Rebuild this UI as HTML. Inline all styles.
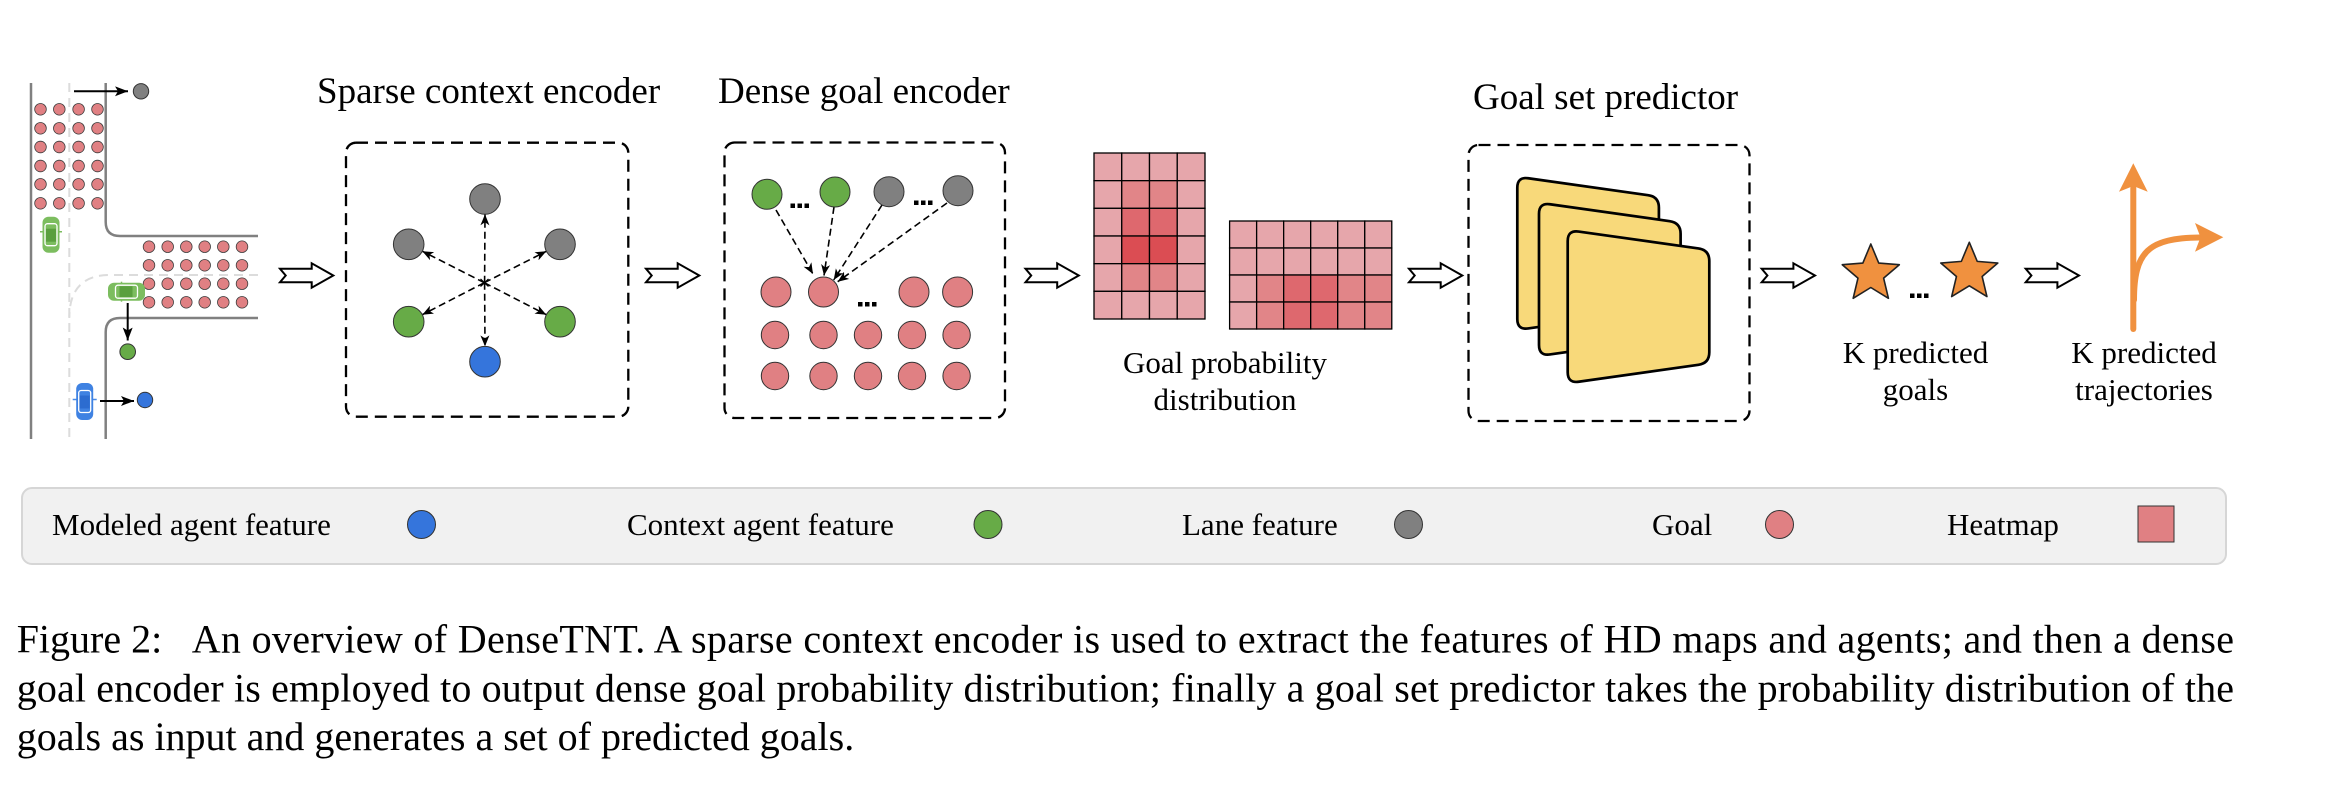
<!DOCTYPE html>
<html>
<head>
<meta charset="utf-8">
<style>
html,body{margin:0;padding:0;background:#fff;}
svg{display:block;}
text{font-family:"Liberation Serif","Times New Roman",serif;fill:#000;}
</style>
</head>
<body>
<svg xmlns="http://www.w3.org/2000/svg" width="2346" height="806" viewBox="0 0 2346 806">
<rect width="2346" height="806" fill="#fff"/>
<defs>
  <marker id="ah" markerWidth="11" markerHeight="9" refX="11" refY="4.5" orient="auto" markerUnits="userSpaceOnUse">
    <path d="M0,0 L11,4.5 L0,9 L3,4.5 Z" fill="#000"/>
  </marker>
  <marker id="ahs" markerWidth="13" markerHeight="10" refX="13" refY="5" orient="auto" markerUnits="userSpaceOnUse">
    <path d="M0,0 L13,5 L0,10 L3,5 Z" fill="#000"/>
  </marker>
</defs>

<!-- ================= ROAD SCENE ================= -->
<g fill="none" stroke="#dcdcdc" stroke-width="2" stroke-dasharray="9 6">
  <path d="M69.3,83 V439"/>
  <path d="M258,275 H110 Q69.3,275 69.3,318"/>
</g>
<g fill="none" stroke="#808080" stroke-width="2.5">
  <path d="M31,83 V439"/>
  <path d="M105.7,83 V222 Q105.7,236 120,236 H258"/>
  <path d="M258,318 H120 Q105.7,318 105.7,332 V439"/>
</g>

<!-- goal dots top -->
<g fill="#e08083" stroke="#3a3a3a" stroke-width="0.8">
  <circle cx="40.5" cy="109.3" r="5.8"/><circle cx="59.3" cy="109.3" r="5.8"/><circle cx="78.6" cy="109.3" r="5.8"/><circle cx="97.5" cy="109.3" r="5.8"/>
  <circle cx="40.5" cy="128.3" r="5.8"/><circle cx="59.3" cy="128.3" r="5.8"/><circle cx="78.6" cy="128.3" r="5.8"/><circle cx="97.5" cy="128.3" r="5.8"/>
  <circle cx="40.5" cy="147" r="5.8"/><circle cx="59.3" cy="147" r="5.8"/><circle cx="78.6" cy="147" r="5.8"/><circle cx="97.5" cy="147" r="5.8"/>
  <circle cx="40.5" cy="166" r="5.8"/><circle cx="59.3" cy="166" r="5.8"/><circle cx="78.6" cy="166" r="5.8"/><circle cx="97.5" cy="166" r="5.8"/>
  <circle cx="40.5" cy="184.3" r="5.8"/><circle cx="59.3" cy="184.3" r="5.8"/><circle cx="78.6" cy="184.3" r="5.8"/><circle cx="97.5" cy="184.3" r="5.8"/>
  <circle cx="40.5" cy="203.3" r="5.8"/><circle cx="59.3" cy="203.3" r="5.8"/><circle cx="78.6" cy="203.3" r="5.8"/><circle cx="97.5" cy="203.3" r="5.8"/>
  <!-- right block -->
  <circle cx="149" cy="246.7" r="5.8"/><circle cx="167.7" cy="246.7" r="5.8"/><circle cx="186.3" cy="246.7" r="5.8"/><circle cx="204.7" cy="246.7" r="5.8"/><circle cx="223.3" cy="246.7" r="5.8"/><circle cx="242" cy="246.7" r="5.8"/>
  <circle cx="149" cy="265.3" r="5.8"/><circle cx="167.7" cy="265.3" r="5.8"/><circle cx="186.3" cy="265.3" r="5.8"/><circle cx="204.7" cy="265.3" r="5.8"/><circle cx="223.3" cy="265.3" r="5.8"/><circle cx="242" cy="265.3" r="5.8"/>
  <circle cx="149" cy="283.7" r="5.8"/><circle cx="167.7" cy="283.7" r="5.8"/><circle cx="186.3" cy="283.7" r="5.8"/><circle cx="204.7" cy="283.7" r="5.8"/><circle cx="223.3" cy="283.7" r="5.8"/><circle cx="242" cy="283.7" r="5.8"/>
  <circle cx="149" cy="302.3" r="5.8"/><circle cx="167.7" cy="302.3" r="5.8"/><circle cx="186.3" cy="302.3" r="5.8"/><circle cx="204.7" cy="302.3" r="5.8"/><circle cx="223.3" cy="302.3" r="5.8"/><circle cx="242" cy="302.3" r="5.8"/>
</g>

<!-- green car vertical -->
<g transform="translate(51,234.7)">
  <line x1="-11" y1="-3" x2="11" y2="-3" stroke="#7cbd5f" stroke-width="1.5"/>
  <rect x="-8.5" y="-18" width="17" height="36" rx="6" fill="#7cbd5f"/>
  <rect x="-6" y="-11" width="12" height="22" rx="2.5" fill="none" stroke="#fff" stroke-width="1.3"/>
  <rect x="-5" y="-6" width="10" height="13" fill="#5a9f3e"/>
</g>
<!-- green car horizontal -->
<g transform="translate(126.5,291.7) rotate(90)">
  <line x1="-10" y1="5" x2="10" y2="5" stroke="#7cbd5f" stroke-width="1.5"/>
  <rect x="-9" y="-18.5" width="18" height="37" rx="6" fill="#7cbd5f"/>
  <rect x="-6.5" y="-11" width="13" height="22" rx="2.5" fill="none" stroke="#fff" stroke-width="1.3"/>
  <rect x="-5.5" y="-6" width="11" height="13" fill="#5a9f3e"/>
</g>
<!-- blue car -->
<g transform="translate(84.7,401.5)">
  <line x1="-12" y1="-2" x2="12" y2="-2" stroke="#4a8ae6" stroke-width="1.5"/>
  <rect x="-8.5" y="-18.5" width="17" height="37" rx="6" fill="#3f82e2"/>
  <rect x="-6" y="-11" width="12" height="22" rx="2.5" fill="none" stroke="#fff" stroke-width="1.3"/>
  <rect x="-5" y="-6" width="10" height="13" fill="#2c6cd0"/>
</g>

<!-- road arrows + dots -->
<g stroke="#000" stroke-width="2" fill="none">
  <line x1="74" y1="91.3" x2="128" y2="91.3" marker-end="url(#ahs)"/>
  <line x1="127.7" y1="303" x2="127.7" y2="340.5" marker-end="url(#ahs)"/>
  <line x1="100" y1="401" x2="134" y2="401" marker-end="url(#ahs)"/>
</g>
<circle cx="141" cy="91.3" r="7.7" fill="#808080" stroke="#333" stroke-width="1"/>
<circle cx="127.7" cy="351.7" r="7.8" fill="#67ab47" stroke="#333" stroke-width="1"/>
<circle cx="145" cy="400" r="7.7" fill="#3575dc" stroke="#333" stroke-width="1"/>

<!-- ================= BLOCK ARROWS ================= -->
<g fill="#fff" stroke="#000" stroke-width="2" stroke-linejoin="miter">
  <polygon transform="translate(280,263.3)" points="0,5.5 31.7,5.5 31.7,0 53.3,12.2 31.7,24.4 31.7,18.9 0,18.9 5.7,12.2"/>
  <polygon transform="translate(646,263.3)" points="0,5.5 31.7,5.5 31.7,0 53.3,12.2 31.7,24.4 31.7,18.9 0,18.9 5.7,12.2"/>
  <polygon transform="translate(1025.5,263.3)" points="0,5.5 31.7,5.5 31.7,0 53.3,12.2 31.7,24.4 31.7,18.9 0,18.9 5.7,12.2"/>
  <polygon transform="translate(1409,263.3)" points="0,5.5 31.7,5.5 31.7,0 53.3,12.2 31.7,24.4 31.7,18.9 0,18.9 5.7,12.2"/>
  <polygon transform="translate(1761.7,263.3)" points="0,5.5 31.7,5.5 31.7,0 53.3,12.2 31.7,24.4 31.7,18.9 0,18.9 5.7,12.2"/>
  <polygon transform="translate(2025.7,263.3)" points="0,5.5 31.7,5.5 31.7,0 53.3,12.2 31.7,24.4 31.7,18.9 0,18.9 5.7,12.2"/>
</g>

<!-- ================= TITLES ================= -->
<text x="317" y="103" font-size="37">Sparse context encoder</text>
<text x="718" y="103" font-size="37">Dense goal encoder</text>
<text x="1473" y="109" font-size="37">Goal set predictor</text>

<!-- ================= DASHED BOXES ================= -->
<g fill="none" stroke="#000" stroke-width="2.3" stroke-dasharray="12 7">
  <rect x="346" y="142.7" width="282.3" height="274" rx="10"/>
  <rect x="724.5" y="142.5" width="280.5" height="275.5" rx="10"/>
  <rect x="1468.5" y="145" width="281" height="276" rx="10"/>
</g>

<!-- ================= SPARSE CONTEXT ENCODER ================= -->
<g stroke="#000" stroke-width="1.6" stroke-dasharray="7 4" fill="none">
  <line x1="484.6" y1="282.7" x2="485" y2="214.3" marker-end="url(#ah)"/>
  <line x1="484.3" y1="282.7" x2="422.3" y2="251.2" marker-end="url(#ah)"/>
  <line x1="484.3" y1="282.7" x2="546.3" y2="251.3" marker-end="url(#ah)"/>
  <line x1="484.3" y1="282.7" x2="422.3" y2="314.7" marker-end="url(#ah)"/>
  <line x1="484.3" y1="282.7" x2="546.3" y2="314.7" marker-end="url(#ah)"/>
  <line x1="484.6" y1="282.7" x2="485" y2="346.4" marker-end="url(#ah)"/>
</g>
<g stroke="#000" stroke-width="1.2">
  <line x1="480.5" y1="279" x2="488.5" y2="286.5"/>
  <line x1="488.5" y1="279" x2="480.5" y2="286.5"/>
</g>
<g stroke="#333" stroke-width="1">
  <circle cx="485" cy="199" r="15.3" fill="#808080"/>
  <circle cx="408.7" cy="244.3" r="15.3" fill="#808080"/>
  <circle cx="560" cy="244.3" r="15.3" fill="#808080"/>
  <circle cx="408.7" cy="321.7" r="15.3" fill="#67ab47"/>
  <circle cx="560" cy="321.7" r="15.3" fill="#67ab47"/>
  <circle cx="485" cy="361.7" r="15.3" fill="#3575dc"/>
</g>

<!-- ================= DENSE GOAL ENCODER ================= -->
<g stroke="#000" stroke-width="1.6" stroke-dasharray="7 4" fill="none">
  <line x1="776" y1="210" x2="813" y2="274" marker-end="url(#ah)"/>
  <line x1="834" y1="207" x2="824" y2="275.5" marker-end="url(#ah)"/>
  <line x1="882" y1="205" x2="833.7" y2="280" marker-end="url(#ah)"/>
  <line x1="947" y1="203" x2="837.7" y2="281.7" marker-end="url(#ah)"/>
</g>
<g stroke="#333" stroke-width="1">
  <circle cx="767" cy="194.3" r="15" fill="#67ab47"/>
  <circle cx="835" cy="192" r="15" fill="#67ab47"/>
  <circle cx="889" cy="191.7" r="15" fill="#808080"/>
  <circle cx="958" cy="190.7" r="15" fill="#808080"/>
</g>
<g stroke="#333" stroke-width="1" fill="#e08083">
  <circle cx="776" cy="292" r="15"/><circle cx="823.5" cy="292" r="15"/><circle cx="914" cy="292" r="15"/><circle cx="957.6" cy="292" r="15"/>
  <circle cx="775" cy="335" r="13.7"/><circle cx="823.5" cy="335" r="13.7"/><circle cx="868" cy="335" r="13.7"/><circle cx="912" cy="335" r="13.7"/><circle cx="956.6" cy="335" r="13.7"/>
  <circle cx="775" cy="376" r="13.7"/><circle cx="823.5" cy="376" r="13.7"/><circle cx="868" cy="376" r="13.7"/><circle cx="912" cy="376" r="13.7"/><circle cx="956.6" cy="376" r="13.7"/>
</g>
<g fill="#000">
  <rect x="790.5" y="203.5" width="4.5" height="4.5"/><rect x="797.5" y="203.5" width="4.5" height="4.5"/><rect x="804.5" y="203.5" width="4.5" height="4.5"/>
  <rect x="914" y="200.5" width="4.5" height="4.5"/><rect x="921" y="200.5" width="4.5" height="4.5"/><rect x="928" y="200.5" width="4.5" height="4.5"/>
  <rect x="858" y="302" width="4.5" height="4.5"/><rect x="865" y="302" width="4.5" height="4.5"/><rect x="872" y="302" width="4.5" height="4.5"/>
</g>

<!-- ================= HEATMAPS ================= -->
<g stroke="#000" stroke-width="1.3">
  <!-- heatmap 1: 4 cols x 6 rows, x0=1094, cell 27.75 x 27.67, y0=153 -->
  <rect x="1094" y="153" width="27.75" height="27.67" fill="#e6a6ab"/><rect x="1121.75" y="153" width="27.75" height="27.67" fill="#e6a6ab"/><rect x="1149.5" y="153" width="27.75" height="27.67" fill="#e6a6ab"/><rect x="1177.25" y="153" width="27.75" height="27.67" fill="#e6a6ab"/>
  <rect x="1094" y="180.67" width="27.75" height="27.67" fill="#e6a6ab"/><rect x="1121.75" y="180.67" width="27.75" height="27.67" fill="#e18588"/><rect x="1149.5" y="180.67" width="27.75" height="27.67" fill="#e18588"/><rect x="1177.25" y="180.67" width="27.75" height="27.67" fill="#e6a6ab"/>
  <rect x="1094" y="208.33" width="27.75" height="27.67" fill="#e6a6ab"/><rect x="1121.75" y="208.33" width="27.75" height="27.67" fill="#de686e"/><rect x="1149.5" y="208.33" width="27.75" height="27.67" fill="#de686e"/><rect x="1177.25" y="208.33" width="27.75" height="27.67" fill="#e6a6ab"/>
  <rect x="1094" y="236" width="27.75" height="27.67" fill="#e6a6ab"/><rect x="1121.75" y="236" width="27.75" height="27.67" fill="#db4d53"/><rect x="1149.5" y="236" width="27.75" height="27.67" fill="#db4d53"/><rect x="1177.25" y="236" width="27.75" height="27.67" fill="#e6a6ab"/>
  <rect x="1094" y="263.67" width="27.75" height="27.67" fill="#e6a6ab"/><rect x="1121.75" y="263.67" width="27.75" height="27.67" fill="#e18588"/><rect x="1149.5" y="263.67" width="27.75" height="27.67" fill="#e18588"/><rect x="1177.25" y="263.67" width="27.75" height="27.67" fill="#e6a6ab"/>
  <rect x="1094" y="291.33" width="27.75" height="27.67" fill="#e6a6ab"/><rect x="1121.75" y="291.33" width="27.75" height="27.67" fill="#e6a6ab"/><rect x="1149.5" y="291.33" width="27.75" height="27.67" fill="#e6a6ab"/><rect x="1177.25" y="291.33" width="27.75" height="27.67" fill="#e6a6ab"/>
  <!-- heatmap 2: 6 cols x 4 rows, x0=1229.6, cell 27.03 x 27, y0=221 -->
  <rect x="1229.6" y="221" width="27.03" height="27" fill="#e6a6ab"/><rect x="1256.63" y="221" width="27.03" height="27" fill="#e6a6ab"/><rect x="1283.66" y="221" width="27.03" height="27" fill="#e6a6ab"/><rect x="1310.69" y="221" width="27.03" height="27" fill="#e6a6ab"/><rect x="1337.72" y="221" width="27.03" height="27" fill="#e6a6ab"/><rect x="1364.75" y="221" width="27.03" height="27" fill="#e6a6ab"/>
  <rect x="1229.6" y="248" width="27.03" height="27" fill="#e6a6ab"/><rect x="1256.63" y="248" width="27.03" height="27" fill="#e6a6ab"/><rect x="1283.66" y="248" width="27.03" height="27" fill="#e6a6ab"/><rect x="1310.69" y="248" width="27.03" height="27" fill="#e6a6ab"/><rect x="1337.72" y="248" width="27.03" height="27" fill="#e6a6ab"/><rect x="1364.75" y="248" width="27.03" height="27" fill="#e6a6ab"/>
  <rect x="1229.6" y="275" width="27.03" height="27" fill="#e6a6ab"/><rect x="1256.63" y="275" width="27.03" height="27" fill="#e18588"/><rect x="1283.66" y="275" width="27.03" height="27" fill="#de686e"/><rect x="1310.69" y="275" width="27.03" height="27" fill="#de686e"/><rect x="1337.72" y="275" width="27.03" height="27" fill="#e18588"/><rect x="1364.75" y="275" width="27.03" height="27" fill="#e18588"/>
  <rect x="1229.6" y="302" width="27.03" height="27" fill="#e6a6ab"/><rect x="1256.63" y="302" width="27.03" height="27" fill="#e18588"/><rect x="1283.66" y="302" width="27.03" height="27" fill="#de686e"/><rect x="1310.69" y="302" width="27.03" height="27" fill="#de686e"/><rect x="1337.72" y="302" width="27.03" height="27" fill="#e18588"/><rect x="1364.75" y="302" width="27.03" height="27" fill="#e18588"/>
</g>
<text x="1225" y="373" font-size="31" text-anchor="middle">Goal probability</text>
<text x="1225" y="410" font-size="31" text-anchor="middle">distribution</text>

<!-- ================= GOAL SET PREDICTOR CARDS ================= -->
<g fill="#f8d97a" stroke="#000" stroke-width="2.7" stroke-linejoin="round">
  <path transform="translate(1517.3,176.7)" d="M0,11 Q0,0 10.9,1.54 L130.7,18.46 Q141.6,20 141.6,31 L141.6,122.3 Q141.6,133.3 130.7,134.84 L10.9,151.76 Q0,153.3 0,142.3 Z"/>
  <path transform="translate(1539,202.7)" d="M0,11 Q0,0 10.9,1.54 L130.7,18.46 Q141.6,20 141.6,31 L141.6,122.3 Q141.6,133.3 130.7,134.84 L10.9,151.76 Q0,153.3 0,142.3 Z"/>
  <path transform="translate(1567.7,230)" d="M0,11 Q0,0 10.9,1.54 L130.7,18.46 Q141.6,20 141.6,31 L141.6,122.3 Q141.6,133.3 130.7,134.84 L10.9,151.76 Q0,153.3 0,142.3 Z"/>
</g>

<!-- ================= STARS ================= -->
<g fill="#f0913f" stroke="#222" stroke-width="1.6" stroke-linejoin="round">
  <path transform="translate(1870.8,274)" d="M0,-30 L7.94,-10.92 L28.53,-9.27 L12.84,4.17 L17.63,24.27 L0,13.5 L-17.63,24.27 L-12.84,4.17 L-28.53,-9.27 L-7.94,-10.92 Z"/>
  <path transform="translate(1969.3,272.3)" d="M0,-30 L7.94,-10.92 L28.53,-9.27 L12.84,4.17 L17.63,24.27 L0,13.5 L-17.63,24.27 L-12.84,4.17 L-28.53,-9.27 L-7.94,-10.92 Z"/>
</g>
<g fill="#000">
  <rect x="1910" y="293.5" width="4.5" height="4.5"/><rect x="1917" y="293.5" width="4.5" height="4.5"/><rect x="1924" y="293.5" width="4.5" height="4.5"/>
</g>
<text x="1915.5" y="363" font-size="31" text-anchor="middle">K predicted</text>
<text x="1915.5" y="400" font-size="31" text-anchor="middle">goals</text>

<!-- ================= TRAJECTORIES ================= -->
<g fill="none" stroke="#f0913f" stroke-width="6" stroke-linecap="round">
  <line x1="2133.3" y1="329" x2="2133.3" y2="188"/>
  <path d="M2134,300 C2134,252 2148,238 2200,237.5"/>
</g>
<g fill="#f0913f">
  <polygon points="2133.3,163.3 2147.7,191.7 2133.3,186 2119,191.7"/>
  <polygon points="2223.3,237.3 2195,251.7 2200.5,237.3 2195,223"/>
</g>
<text x="2144" y="363" font-size="31" text-anchor="middle">K predicted</text>
<text x="2144" y="400" font-size="31" text-anchor="middle">trajectories</text>

<!-- ================= LEGEND ================= -->
<rect x="22" y="488" width="2204" height="76" rx="10" fill="#f1f1f1" stroke="#d6d6d6" stroke-width="2"/>
<g font-size="31">
  <text x="52" y="535">Modeled agent feature</text>
  <text x="627" y="535">Context agent feature</text>
  <text x="1182" y="535">Lane feature</text>
  <text x="1652" y="535">Goal</text>
  <text x="1947" y="535">Heatmap</text>
</g>
<g stroke="#333" stroke-width="1">
  <circle cx="421.5" cy="524.5" r="14" fill="#3575dc"/>
  <circle cx="988" cy="524.5" r="14" fill="#67ab47"/>
  <circle cx="1408.5" cy="524.5" r="14" fill="#808080"/>
  <circle cx="1779.5" cy="524.5" r="14" fill="#e08083"/>
  <rect x="2138" y="506" width="36" height="36" fill="#e08083"/>
</g>

<!-- ================= CAPTION ================= -->
<g font-size="40">
  <text x="16.7" y="652.7">Figure 2:</text>
  <text x="191.7" y="652.7" textLength="2042.3" lengthAdjust="spacing">An overview of DenseTNT. A sparse context encoder is used to extract the features of HD maps and agents; and then a dense</text>
  <text x="16.7" y="701.5" textLength="2217.3" lengthAdjust="spacing">goal encoder is employed to output dense goal probability distribution; finally a goal set predictor takes the probability distribution of the</text>
  <text x="16.7" y="750">goals as input and generates a set of predicted goals.</text>
</g>
</svg>
</body>
</html>
